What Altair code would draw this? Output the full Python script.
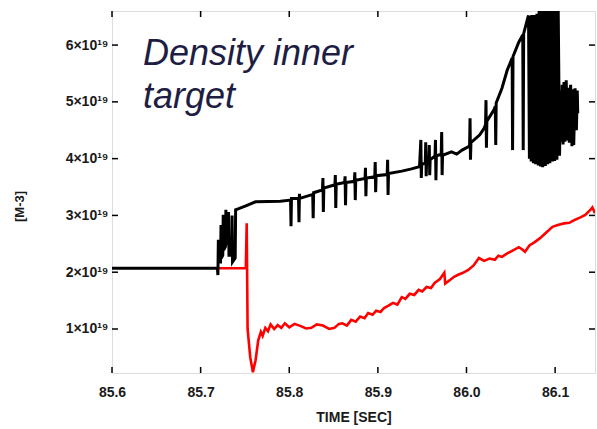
import altair as alt
import pandas as pd

# ---- data (time in s, density in units of 1e19 m^-3) ----
black_t = [85.600, 85.719, 85.7195, 85.7200, 85.7205, 85.7225, 85.7230, 85.7235, 85.7250, 85.7255,
           85.7260, 85.7280, 85.7285, 85.7290, 85.7310, 85.7315, 85.7320, 85.7350, 85.7355, 85.7360,
           85.7390, 85.7395, 85.743, 85.751, 85.762, 85.790,
           85.8015, 85.8020, 85.8025, 85.8105, 85.8110, 85.8115, 85.8120, 85.8265, 85.8270, 85.8275,
           85.8375, 85.8380, 85.8385, 85.8390, 85.8515, 85.8520, 85.8525, 85.8530,
           85.8625, 85.8630, 85.8635, 85.8640, 85.8735, 85.8740, 85.8745, 85.8750,
           85.8855, 85.8860, 85.8865, 85.8870, 85.8965, 85.8970, 85.8975, 85.8980,
           85.9105, 85.9110, 85.9115, 85.9120, 85.927, 85.938, 85.947,
           85.9485, 85.9490, 85.9495, 85.9535, 85.9540, 85.9545, 85.9550,
           85.9575, 85.9580, 85.9585, 85.9590, 85.9645, 85.9650, 85.9655, 85.9660,
           85.9715, 85.9720, 85.9725, 85.9730, 85.983, 85.989, 85.995,
           86.0035, 86.0040, 86.0045, 86.0050, 86.015, 86.020,
           86.0215, 86.0220, 86.0225, 86.0230, 86.031, 86.0325, 86.0330, 86.0335,
           86.040, 86.046, 86.0515, 86.0520, 86.0525, 86.059, 86.0635, 86.0640, 86.0645, 86.069,
           86.070, 86.071, 86.072, 86.073, 86.074, 86.0755, 86.077, 86.078, 86.0795, 86.081,
           86.082, 86.0835, 86.085, 86.086, 86.0875, 86.089, 86.090, 86.0915, 86.093, 86.094,
           86.0955, 86.097, 86.098, 86.0995, 86.101, 86.102, 86.1035, 86.105,
           86.106, 86.107, 86.108, 86.109, 86.110, 86.111, 86.1125, 86.114, 86.115, 86.116,
           86.1175, 86.119, 86.120, 86.121, 86.1225, 86.124, 86.125, 86.1255]
black_v = [2.07, 2.07, 1.95, 2.57, 2.18, 2.18, 2.83, 2.25, 2.30, 3.01,
           2.39, 2.45, 3.10, 2.48, 2.60, 3.06, 2.30, 2.30, 3.00, 2.18,
           2.25, 3.10, 3.12, 3.17, 3.24, 3.25,
           3.27, 2.81, 3.30, 3.30, 2.88, 3.38, 3.30, 3.37, 2.95, 3.40,
           3.45, 3.66, 3.06, 3.48, 3.54, 3.71, 3.13, 3.55,
           3.58, 3.69, 3.18, 3.58, 3.60, 3.76, 3.27, 3.62,
           3.65, 3.84, 3.34, 3.66, 3.68, 3.94, 3.41, 3.70,
           3.72, 3.98, 3.36, 3.74, 3.78, 3.82, 3.86,
           4.33, 3.66, 3.90, 3.92, 4.29, 3.69, 3.95,
           3.97, 4.24, 3.71, 3.98, 4.05, 4.33, 3.62, 4.05,
           4.08, 4.47, 3.71, 4.06, 4.12, 4.08, 4.15,
           4.22, 4.71, 3.98, 4.28, 4.42, 4.54,
           4.60, 5.03, 4.19, 4.66, 4.86, 4.92, 4.24, 4.98,
           5.24, 5.56, 5.77, 4.15, 5.80, 6.05, 6.18, 4.15, 6.20, 6.47,
           6.52, 4.00, 6.52, 3.95, 6.53, 3.92, 6.53, 3.90, 6.55, 3.88,
           6.70, 3.86, 6.70, 3.85, 6.70, 3.87, 6.70, 3.90, 6.70, 3.92,
           6.70, 3.95, 6.70, 3.96, 6.70, 3.98, 6.60, 4.05,
           5.20, 4.30, 5.30, 4.25, 5.35, 4.30, 5.38, 4.32, 5.25, 4.28,
           5.30, 4.22, 5.22, 4.24, 5.24, 4.50, 5.20, 4.80]

red_t = [85.719, 85.751, 85.752, 85.753, 85.756, 85.759, 85.762, 85.765, 85.768, 85.770,
         85.773, 85.776, 85.779, 85.783, 85.787, 85.791, 85.795, 85.800, 85.806, 85.813,
         85.819, 85.825, 85.831, 85.838, 85.845, 85.851, 85.856, 85.860, 85.865, 85.870,
         85.875, 85.880, 85.885, 85.889, 85.894, 85.898, 85.903, 85.907, 85.912, 85.917,
         85.922, 85.927, 85.931, 85.936, 85.941, 85.946, 85.950, 85.955, 85.960, 85.964,
         85.970, 85.975, 85.976, 85.981, 85.986, 85.990, 85.996, 86.002, 86.008, 86.014,
         86.020, 86.026, 86.032, 86.036, 86.040, 86.046, 86.052, 86.059, 86.063, 86.066,
         86.071, 86.077, 86.083, 86.090, 86.097, 86.103, 86.110, 86.116, 86.122, 86.128,
         86.134, 86.140, 86.142, 86.145]
red_v = [2.07, 2.07, 2.86, 1.00, 0.50, 0.24, 0.45, 0.80, 0.95, 0.88,
         1.02, 0.96, 1.08, 1.00, 1.07, 1.02, 1.10, 1.03, 1.09, 1.05,
         1.01, 1.02, 1.08, 1.06, 1.00, 1.02, 1.09, 1.10, 1.06, 1.16,
         1.13, 1.22, 1.19, 1.28, 1.25, 1.32, 1.30, 1.37, 1.41, 1.46,
         1.43, 1.56, 1.53, 1.62, 1.60, 1.69, 1.66, 1.74, 1.72, 1.81,
         1.88, 1.99, 1.80, 1.86, 1.92, 1.95, 1.99, 2.04, 2.12, 2.25,
         2.20, 2.24, 2.22, 2.29, 2.27, 2.33, 2.38, 2.44, 2.40, 2.36,
         2.47, 2.53, 2.60, 2.70, 2.80, 2.83, 2.86, 2.87, 2.92, 2.96,
         3.01, 3.10, 3.14, 3.04]

x_ticks = [85.6, 85.7, 85.8, 85.9, 86.0, 86.1]
y_ticks = [1, 2, 3, 4, 5, 6]

W, H = 483, 362
XDOM = [85.6, 86.145]
YDOM = [0.225, 6.6]

black = pd.DataFrame({"t": black_t, "v": black_v, "i": range(len(black_t))})
red = pd.DataFrame({"t": red_t, "v": red_v, "i": range(len(red_t))})
xt = pd.DataFrame({"t": x_ticks})
yt = pd.DataFrame({"v": y_ticks})

xs = alt.Scale(domain=XDOM, nice=False, zero=False)
ys = alt.Scale(domain=YDOM, nice=False, zero=False)

FONT = "Liberation Sans"

xaxis = alt.Axis(values=x_ticks, format=".1f", title="TIME [SEC]", grid=False, domain=False,
                 ticks=False, labelFont=FONT, labelFontSize=14, labelFontWeight="bold",
                 labelColor="#1a1a1a", labelPadding=12, titleFont=FONT, titleFontSize=14,
                 titleFontWeight="bold", titleColor="#1a1a1a", titlePadding=11, labelFlush=False)
yaxis = alt.Axis(values=y_ticks, labelExpr="datum.value + '×10¹⁹'", title="[M-3]", grid=False,
                 domain=False, ticks=False, labelFont=FONT, labelFontSize=14,
                 labelFontWeight="bold", labelColor="#1a1a1a", labelPadding=4,
                 titleFont=FONT, titleFontSize=13, titleFontWeight="bold", titleColor="#1a1a1a",
                 titleX=-93, titleY=195, titleBaseline="middle", titleAngle=270)

red_line = alt.Chart(red).mark_line(color="#ff0000", strokeWidth=2.6, clip=True).encode(
    x=alt.X("t:Q", scale=xs, axis=xaxis),
    y=alt.Y("v:Q", scale=ys, axis=yaxis),
    order="i:Q",
)
black_line = alt.Chart(black).mark_line(color="#000000", strokeWidth=3, clip=True).encode(
    x=alt.X("t:Q", scale=xs),
    y=alt.Y("v:Q", scale=ys),
    order="i:Q",
)

tick_b = alt.Chart(xt).mark_rule(color="black", strokeWidth=1.5).encode(
    x=alt.X("t:Q", scale=xs), y=alt.value(H), y2=alt.value(H - 6))
tick_t = alt.Chart(xt).mark_rule(color="black", strokeWidth=1.5).encode(
    x=alt.X("t:Q", scale=xs), y=alt.value(0), y2=alt.value(6))
tick_l = alt.Chart(yt).mark_rule(color="black", strokeWidth=1.5).encode(
    y=alt.Y("v:Q", scale=ys), x=alt.value(0), x2=alt.value(6))
tick_r = alt.Chart(yt).mark_rule(color="black", strokeWidth=1.5).encode(
    y=alt.Y("v:Q", scale=ys), x=alt.value(W), x2=alt.value(W - 6))

label = alt.Chart(pd.DataFrame({"txt": ["Density inner\ntarget"]})).mark_text(
    align="left", baseline="alphabetic", font=FONT, fontSize=36, fontStyle="italic",
    color="#1e1e44", lineBreak="\n", lineHeight=43
).encode(x=alt.value(31), y=alt.value(54), text="txt:N")

chart = alt.layer(red_line, black_line, tick_b, tick_t, tick_l, tick_r, label).properties(
    width=W, height=H,
    autosize=alt.AutoSizeParams(type="none"),
    padding={"left": 112, "top": 11, "right": 2, "bottom": 56},
).configure_view(stroke="black", strokeWidth=2.2).configure(background="white")

chart.save("out.html", embed_options={"renderer": "svg", "actions": False})
